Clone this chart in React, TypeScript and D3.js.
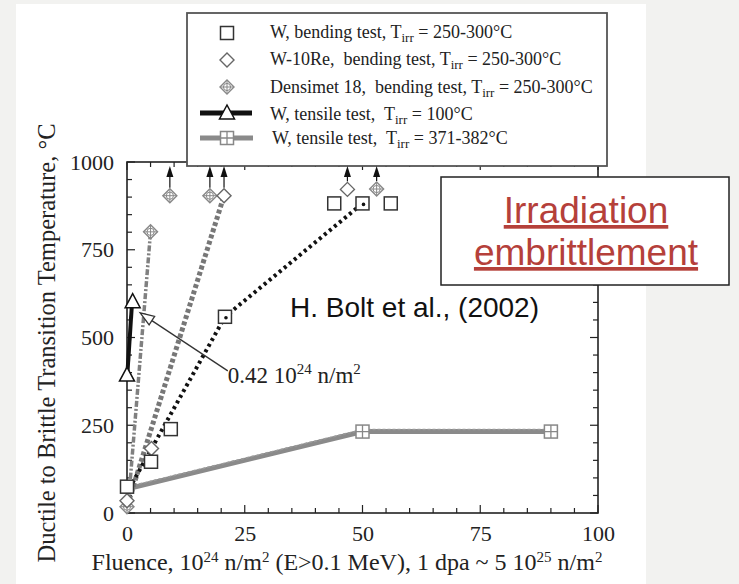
import * as d3 from "d3";
import { useEffect, useRef } from "react";

const W = 739;
const H = 584;

// W, bending test (squares)
const wBendX = [0, 5.1, 9.3, 20.8, 44, 50, 56];
const wBendY = [75, 146, 239, 559, 882, 882, 882];
const wBendLineX = [0.5, 20.8, 50];
const wBendLineY = [70, 559, 882];

// W-10Re, bending test (diamonds)
const wReX = [0, 5.2, 20.6, 46.8];
const wReY = [35, 184, 904, 922];
const wReLineX = [0.5, 20.6];
const wReLineY = [40, 904];

// Densimet 18, bending test
const densX = [0, 5.0, 9.1, 17.6, 53];
const densY = [18, 801, 904, 904, 923];
const densLineX = [0.3, 5.0];
const densLineY = [30, 801];

// W, tensile test, Tirr = 100°C
const wT100X = [0, 1.2];
const wT100Y = [393, 602];
const wT100LineX = [0.1, 1.0];
const wT100LineY = [400, 585];

// W, tensile test, Tirr = 371-382°C
const wT371X = [50, 90];
const wT371Y = [232, 232];
const wT371LineX = [0.5, 50, 90];
const wT371LineY = [70, 232, 232];

// points that are only lower bounds (arrow up)
const arrowX = [9.1, 17.6, 20.6, 46.8, 53];
const arrowY = [904, 904, 904, 922, 923];

const xTicks = [0, 25, 50, 75, 100];
const yTicks = [0, 250, 500, 750, 1000];

// annotation "0.42 10^24 n/m^2"
const annotTip = [2.8, 570];
const annotTail = [21.4, 405];
const annotText = [21.4, 370];

const serif = "'Liberation Serif', 'Times New Roman', serif";
const sans = "'Liberation Sans', Arial, sans-serif";

type G = d3.Selection<SVGGElement, unknown, null, undefined>;

function square(g: G, cx: number, cy: number, color = "#333") {
  g.append("rect").attr("x", cx - 6.5).attr("y", cy - 6.5).attr("width", 13).attr("height", 13)
    .attr("fill", "white").attr("stroke", color).attr("stroke-width", 1.5);
}

function diamond(g: G, cx: number, cy: number, color = "#666") {
  g.append("path").attr("d", `M${cx},${cy - 7}L${cx + 7},${cy}L${cx},${cy + 7}L${cx - 7},${cy}Z`)
    .attr("fill", "white").attr("stroke", color).attr("stroke-width", 1.4);
}

function densimet(g: G, cx: number, cy: number, color = "#888") {
  diamond(g, cx, cy, color);
  g.append("circle").attr("cx", cx).attr("cy", cy).attr("r", 3.6)
    .attr("fill", "none").attr("stroke", color).attr("stroke-width", 1);
  g.append("path").attr("d", `M${cx - 7},${cy}H${cx + 7}M${cx},${cy - 7}V${cy + 7}`)
    .attr("stroke", color).attr("stroke-width", 1);
}

function triangle(g: G, cx: number, cy: number) {
  g.append("path").attr("d", `M${cx},${cy - 8}L${cx + 7.5},${cy + 6}L${cx - 7.5},${cy + 6}Z`)
    .attr("fill", "white").attr("stroke", "#111").attr("stroke-width", 1.5);
}

function squareCross(g: G, cx: number, cy: number) {
  square(g, cx, cy, "#888");
  g.append("path").attr("d", `M${cx - 6.5},${cy}H${cx + 6.5}M${cx},${cy - 6.5}V${cy + 6.5}`)
    .attr("stroke", "#888").attr("stroke-width", 1.3);
}

export default function App() {
  const svgRef = useRef<SVGSVGElement | null>(null);

  useEffect(() => {
    if (!svgRef.current) return;
    const svg = d3.select(svgRef.current);
    svg.selectAll("*").remove();

    // page background
    svg.append("rect").attr("width", W).attr("height", H).attr("fill", "#f2f2f0");
    svg.append("rect").attr("x", 16).attr("y", 4).attr("width", 630).attr("height", H - 4).attr("fill", "white");

    const x = d3.scaleLinear().domain([0, 100]).range([127, 598]);
    const y = d3.scaleLinear().domain([0, 1000]).range([513, 162]);

    const line = d3.line<[number, number]>().x(d => x(d[0])).y(d => y(d[1]));
    const zip = (a: number[], b: number[]) => a.map((v, i) => [v, b[i]] as [number, number]);

    // frame
    svg.append("rect").attr("x", x(0)).attr("y", y(1000)).attr("width", x(100) - x(0)).attr("height", y(0) - y(1000))
      .attr("fill", "none").attr("stroke", "#222").attr("stroke-width", 1.6);

    // ticks, pointing inward on all four sides
    const minorX = d3.range(0, 101, 5);
    const minorY = d3.range(0, 1001, 50);
    const ticks = svg.append("g").attr("stroke", "#222").attr("stroke-width", 1.2);
    minorX.forEach(v => {
      const len = v % 25 === 0 ? 8 : 5;
      ticks.append("line").attr("x1", x(v)).attr("x2", x(v)).attr("y1", y(0)).attr("y2", y(0) - len);
      ticks.append("line").attr("x1", x(v)).attr("x2", x(v)).attr("y1", y(1000)).attr("y2", y(1000) + len);
    });
    minorY.forEach(v => {
      const len = v % 250 === 0 ? 8 : 5;
      ticks.append("line").attr("y1", y(v)).attr("y2", y(v)).attr("x1", x(0)).attr("x2", x(0) + len);
      ticks.append("line").attr("y1", y(v)).attr("y2", y(v)).attr("x1", x(100)).attr("x2", x(100) - len);
    });

    // tick labels via d3 axes
    const ax = svg.append("g").attr("transform", `translate(0,${y(0)})`)
      .call(d3.axisBottom(x).tickValues(xTicks).tickSize(0).tickPadding(12).tickFormat(d3.format("d")));
    ax.select(".domain").remove();
    ax.selectAll("text").attr("font-family", serif).attr("font-size", 22).attr("fill", "#222");

    const ay = svg.append("g").attr("transform", `translate(${x(0)},0)`)
      .call(d3.axisLeft(y).tickValues(yTicks).tickSize(0).tickPadding(13).tickFormat(d3.format("d")));
    ay.select(".domain").remove();
    ay.selectAll("text").attr("font-family", serif).attr("font-size", 22).attr("fill", "#222");

    // axis titles
    const xt = svg.append("text").attr("x", 347).attr("y", 570).attr("text-anchor", "middle")
      .attr("font-family", serif).attr("font-size", 24).attr("fill", "#222");
    xt.append("tspan").text("Fluence, 10");
    xt.append("tspan").attr("dy", -8).attr("font-size", 15).text("24");
    xt.append("tspan").attr("dy", 8).text(" n/m");
    xt.append("tspan").attr("dy", -8).attr("font-size", 15).text("2");
    xt.append("tspan").attr("dy", 8).text(" (E>0.1 MeV), 1 dpa ~ 5 10");
    xt.append("tspan").attr("dy", -8).attr("font-size", 15).text("25");
    xt.append("tspan").attr("dy", 8).text(" n/m");
    xt.append("tspan").attr("dy", -8).attr("font-size", 15).text("2");

    svg.append("text").attr("transform", "translate(55,343) rotate(-90)").attr("text-anchor", "middle")
      .attr("font-family", serif).attr("font-size", 24.5).attr("fill", "#222")
      .text("Ductile to Brittle Transition Temperature, °C");

    // series lines
    const lines = svg.append("g").attr("fill", "none");
    lines.append("path").attr("d", line(zip(wT371LineX, wT371LineY)))
      .attr("stroke", "#8a8a8a").attr("stroke-width", 5);
    lines.append("path").attr("d", line(zip(wT371LineX, wT371LineY)))
      .attr("transform", "translate(0,-2)")
      .attr("stroke", "#9a9a9a").attr("stroke-width", 1.5).attr("stroke-dasharray", "3 2");
    lines.append("path").attr("d", line(zip(densLineX, densLineY)))
      .attr("stroke", "#808080").attr("stroke-width", 3.5).attr("stroke-dasharray", "6 2 2 2");
    lines.append("path").attr("d", line(zip(wReLineX, wReLineY)))
      .attr("stroke", "#777").attr("stroke-width", 5).attr("stroke-dasharray", "4 2.5");
    lines.append("path").attr("d", line(zip(wBendLineX, wBendLineY)))
      .attr("stroke", "#111").attr("stroke-width", 4).attr("stroke-dasharray", "3 3.5");
    lines.append("path").attr("d", line(zip(wT100LineX, wT100LineY)))
      .attr("stroke", "#111").attr("stroke-width", 4);

    // markers
    const m = svg.append("g") as G;
    wT371X.forEach((v, i) => squareCross(m, x(v), y(wT371Y[i])));
    densX.forEach((v, i) => densimet(m, x(v), y(densY[i])));
    wReX.forEach((v, i) => diamond(m, x(v), y(wReY[i])));
    wBendX.forEach((v, i) => square(m, x(v), y(wBendY[i])));
    wT100X.forEach((v, i) => triangle(m, x(v), y(wT100Y[i])));
    // dotted line ends visible inside squares
    wBendLineX.slice(1).forEach((v, i) => {
      m.append("circle").attr("cx", x(v) + 1).attr("cy", y(wBendLineY[i + 1]) + 1).attr("r", 1.8).attr("fill", "#111");
    });

    // legend box (drawn over the plot top)
    const lg = svg.append("g") as G;
    lg.append("rect").attr("x", 187).attr("y", 13).attr("width", 420).attr("height", 153)
      .attr("fill", "white").attr("stroke", "#555").attr("stroke-width", 1.8);

    // arrows for lower bounds
    const ar = svg.append("g");
    arrowX.forEach((v, i) => {
      const px = x(v);
      ar.append("line").attr("x1", px).attr("x2", px).attr("y1", y(arrowY[i]) - 8).attr("y2", 174)
        .attr("stroke", "#111").attr("stroke-width", 1.2);
      ar.append("path").attr("d", `M${px},166L${px + 3.5},177L${px - 3.5},177Z`).attr("fill", "#111");
    });

    // legend entries
    const rows = [
      { sym: "square", pre: "W, bending test, T", post: " = 250-300°C", cy: 33, by: 38, tx: 270 },
      { sym: "diamond", pre: "W-10Re,\u00a0 bending test, T", post: " = 250-300°C", cy: 60, by: 65, tx: 270 },
      { sym: "densimet", pre: "Densimet 18,\u00a0 bending test, T", post: " = 250-300°C", cy: 87, by: 93, tx: 270 },
      { sym: "tri", pre: "W, tensile test,\u00a0 T", post: " = 100°C", cy: 113, by: 120, tx: 270 },
      { sym: "sqx", pre: "W, tensile test,\u00a0 T", post: " = 371-382°C", cy: 138, by: 144, tx: 272 },
    ];
    rows.forEach(r => {
      if (r.sym === "square") square(lg, 227, r.cy);
      if (r.sym === "diamond") diamond(lg, 227, r.cy);
      if (r.sym === "densimet") densimet(lg, 227, r.cy);
      if (r.sym === "tri") {
        lg.append("line").attr("x1", 200).attr("x2", 252).attr("y1", r.cy).attr("y2", r.cy)
          .attr("stroke", "#111").attr("stroke-width", 5);
        triangle(lg, 227, r.cy);
      }
      if (r.sym === "sqx") {
        lg.append("line").attr("x1", 200).attr("x2", 253).attr("y1", r.cy).attr("y2", r.cy)
          .attr("stroke", "#8a8a8a").attr("stroke-width", 5);
        squareCross(lg, 227, r.cy);
      }
      const t = lg.append("text").attr("x", r.tx).attr("y", r.by)
        .attr("font-family", serif).attr("font-size", 18).attr("fill", "#222");
      t.append("tspan").text(r.pre);
      t.append("tspan").attr("dy", 4).attr("font-size", 13).text("irr");
      t.append("tspan").attr("dy", -4).text(r.post);
    });

    // annotation with hollow arrow
    const tip = [x(annotTip[0]), y(annotTip[1])];
    const tail = [x(annotTail[0]), y(annotTail[1])];
    const ang = Math.atan2(tail[1] - tip[1], tail[0] - tip[0]);
    const hl = 14, hw = 5;
    const bx = tip[0] + hl * Math.cos(ang), by = tip[1] + hl * Math.sin(ang);
    const nx = -Math.sin(ang) * hw, ny = Math.cos(ang) * hw;
    svg.append("line").attr("x1", bx).attr("y1", by).attr("x2", tail[0]).attr("y2", tail[1])
      .attr("stroke", "#333").attr("stroke-width", 1.3);
    svg.append("path").attr("d", `M${tip[0]},${tip[1]}L${bx + nx},${by + ny}L${bx - nx},${by - ny}Z`)
      .attr("fill", "white").attr("stroke", "#333").attr("stroke-width", 1.3);
    const at = svg.append("text").attr("x", x(annotText[0])).attr("y", y(annotText[1]))
      .attr("font-family", serif).attr("font-size", 23).attr("fill", "#222");
    at.append("tspan").text("0.42 10");
    at.append("tspan").attr("dy", -9).attr("font-size", 15).text("24");
    at.append("tspan").attr("dy", 9).text(" n/m");
    at.append("tspan").attr("dy", -9).attr("font-size", 15).text("2");

    // citation
    svg.append("text").attr("x", 290).attr("y", 317).attr("font-family", sans).attr("font-size", 28)
      .attr("fill", "#111").text("H. Bolt et al., (2002)");

    // title box
    svg.append("rect").attr("x", 441).attr("y", 177).attr("width", 288).attr("height", 108)
      .attr("fill", "white").attr("stroke", "#222").attr("stroke-width", 1.5);
    ["Irradiation", "embrittlement"].forEach((s, i) => {
      svg.append("text").attr("x", 586).attr("y", 223 + i * 42).attr("text-anchor", "middle")
        .attr("font-family", sans).attr("font-size", 37).attr("fill", "#b5403a")
        .attr("text-decoration", "underline").text(s);
    });
  }, []);

  return (
    <svg ref={svgRef} width={W} height={H} style={{ position: "absolute", left: 0, top: 0 }}></svg>
  );
}
